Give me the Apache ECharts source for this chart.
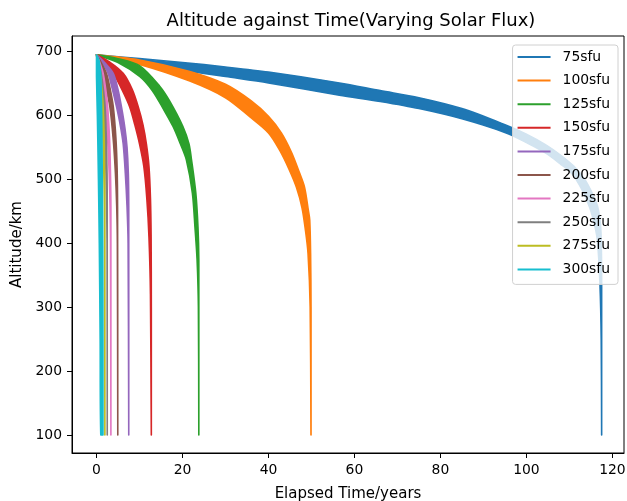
<!DOCTYPE html>
<html>
<head>
<meta charset="utf-8">
<script src="https://cdn.jsdelivr.net/npm/echarts@6/dist/echarts.min.js"></script>
<style>
  html, body { margin: 0; padding: 0; background: #fff; }
  #chart { width: 627px; height: 501px; }
</style>
</head>
<body>
<div id="chart"></div>
<script>
// each band: upper edge and lower edge as [years, km]
const fluxNames = ['75sfu', '100sfu', '125sfu', '150sfu', '175sfu', '200sfu', '225sfu', '250sfu', '275sfu', '300sfu'];
const colors = ['#1f77b4', '#ff7f0e', '#2ca02c', '#d62728', '#9467bd', '#8c564b', '#e377c2', '#7f7f7f', '#bcbd22', '#17becf'];

const sfu75Upper = [[0, 694], [10, 688], [20, 682], [30, 675], [40, 667], [56.5, 650], [66, 638], [75, 627], [85, 610], [95.3, 584], [100, 570], [104.6, 553], [108, 537], [111, 520], [113.5, 500], [115.5, 475], [116.6, 456], [117.2, 430], [117.4, 405], [117.5, 337], [117.5, 100]];
const sfu75Lower = [[0, 694], [10, 680], [20, 670], [30, 660], [40, 650], [56.5, 631], [66, 621], [75, 610], [85, 594], [95.3, 572], [100, 557], [104.6, 540], [108, 523], [110.5, 509], [112.8, 485], [114.7, 456], [115.8, 430], [116.5, 405], [117.1, 337], [117.4, 250], [117.5, 100]];

const sfu100Upper = [[0, 694], [10, 686], [21.7, 668], [30, 648], [36, 622], [40, 598], [43, 572], [45.4, 541], [47.2, 510], [48.4, 487], [49.3, 450], [49.6, 436], [49.8, 384], [49.9, 300], [49.9, 100]];
const sfu100Lower = [[0, 694], [10, 679], [21.7, 653], [30, 627], [35.7, 597], [40, 572], [42.6, 545], [44.8, 515], [46.5, 487], [47.8, 455], [48.6, 420], [49.2, 384], [49.7, 300], [49.9, 100]];

const sfu125Upper = [[0, 694], [5, 688], [10, 677], [14.7, 645], [17, 622], [20.1, 582], [21.5, 555], [22.1, 530], [23.1, 478], [23.6, 425], [23.8, 373], [23.8, 100]];
const sfu125Lower = [[0, 694], [5, 682], [10.1, 660], [13, 638], [15.5, 610], [17.8, 582], [19.5, 555], [20.9, 530], [22.3, 478], [22.9, 425], [23.4, 373], [23.7, 300], [23.8, 100]];

const sfu150Upper = [[0, 694], [3, 683], [6.2, 665], [8.3, 640], [9.7, 613], [10.8, 585], [11.6, 555], [12.2, 520], [12.55, 470], [12.7, 410], [12.75, 300], [12.75, 100]];
const sfu150Lower = [[0, 694], [2, 683], [3.9, 665], [5.9, 640], [7.7, 613], [8.9, 585], [10, 555], [11, 520], [11.7, 470], [12.2, 410], [12.55, 320], [12.75, 100]];

const sfu175Upper = [[0, 694], [2, 681], [3.9, 665], [5, 640], [5.8, 613], [6.6, 580], [7.1, 550], [7.4, 509], [7.5, 457], [7.5, 100]];
const sfu175Lower = [[0, 694], [1.5, 680], [2.7, 665], [3.7, 640], [4.65, 613], [5.5, 585], [6.2, 555], [6.7, 509], [7.1, 457], [7.35, 400], [7.5, 100]];

const sfu200Upper = [[0, 694], [1, 683], [2.3, 665], [3.2, 640], [3.9, 613], [4.5, 565], [4.8, 515], [4.9, 457], [4.95, 100]];
const sfu200Lower = [[0, 694], [0.7, 680], [1.5, 665], [2.3, 640], [3.1, 613], [3.9, 561], [4.4, 509], [4.7, 457], [4.85, 400], [4.95, 100]];

const sfu225Upper = [[0, 694], [0.7, 683], [1.55, 665], [2.15, 640], [2.6, 613], [3.05, 561], [3.25, 509], [3.35, 457], [3.35, 100]];
const sfu225Lower = [[0, 694], [0.45, 680], [1.0, 665], [1.55, 640], [2.1, 613], [2.6, 561], [2.95, 509], [3.15, 457], [3.25, 400], [3.35, 100]];

const sfu250Upper = [[0, 694], [0.5, 683], [1.1, 665], [1.6, 640], [2.0, 613], [2.3, 561], [2.45, 509], [2.5, 457], [2.5, 100]];
const sfu250Lower = [[0, 694], [0.3, 680], [0.7, 665], [1.1, 640], [1.55, 613], [1.95, 561], [2.2, 509], [2.35, 457], [2.45, 400], [2.5, 100]];

const sfu275Upper = [[0, 694], [0.4, 683], [0.85, 665], [1.25, 640], [1.55, 613], [1.8, 561], [1.9, 509], [1.95, 457], [1.95, 100]];
const sfu275Lower = [[0, 694], [0.25, 680], [0.55, 665], [0.85, 640], [1.15, 613], [1.5, 561], [1.7, 509], [1.85, 457], [1.9, 400], [1.95, 100]];

const sfu300Upper = [[0, 694], [0.6, 685], [1.0, 660], [1.2, 600], [1.35, 500], [1.45, 400], [1.5, 250], [1.5, 100]];
const sfu300Lower = [[0, 694], [0, 660], [0.2, 600], [0.45, 500], [0.65, 400], [0.85, 250], [1.0, 100]];

const bands = [
  [sfu75Upper, sfu75Lower], [sfu100Upper, sfu100Lower], [sfu125Upper, sfu125Lower],
  [sfu150Upper, sfu150Lower], [sfu175Upper, sfu175Lower], [sfu200Upper, sfu200Lower],
  [sfu225Upper, sfu225Lower], [sfu250Upper, sfu250Lower], [sfu275Upper, sfu275Lower],
  [sfu300Upper, sfu300Lower]
];

const xTicks = [0, 20, 40, 60, 80, 100, 120];
const yTicks = [100, 200, 300, 400, 500, 600, 700];

const font = 'DejaVu Sans';
const chart = echarts.init(document.getElementById('chart'));

const samePoint = (a, b) => a[0] === b[0] && a[1] === b[1];

const series = fluxNames.map((name, i) => {
  const upper = bands[i][0];
  let lower = bands[i][1].slice();
  // go down the upper edge, back up the lower edge (shared end points dropped)
  if (samePoint(lower[lower.length - 1], upper[upper.length - 1])) lower.pop();
  if (samePoint(lower[0], upper[0])) lower.shift();
  const outline = upper.concat(lower.reverse());
  return {
    name: name,
    type: 'custom',
    itemStyle: { color: colors[i] },
    data: [0],
    renderItem: function (params, api) {
      const pts = outline.map(p => api.coord(p));
      const xs = pts.map(p => p[0]);
      const ys = pts.map(p => p[1]);
      const box = [[Math.min(...xs), Math.min(...ys)], [Math.max(...xs), Math.max(...ys)]];
      return {
        type: 'polygon',
        shape: { points: pts, smooth: 0.3, smoothConstraint: box },
        style: { fill: colors[i], stroke: colors[i], lineWidth: 1.6, lineJoin: 'round' }
      };
    }
  };
});

chart.setOption({
  animation: false,
  title: {
    text: 'Altitude against Time(Varying Solar Flux)',
    left: 346, top: 7, textAlign: 'center',
    textStyle: { fontFamily: font, fontSize: 18, fontWeight: 'normal', color: '#000' }
  },
  grid: {
    left: 72, right: 3, top: 36, bottom: 48, outerBoundsMode: 'none',
    show: true, borderColor: '#000', borderWidth: 1
  },
  legend: {
    orient: 'vertical',
    right: 9, top: 45,
    data: fluxNames.map(n => ({ name: n, icon: 'rect' })),
    itemWidth: 33, itemHeight: 2, itemGap: 9.6,
    padding: [5, 8, 8, 5],
    backgroundColor: 'rgba(255,255,255,0.8)',
    borderColor: '#d0d0d0', borderWidth: 1, borderRadius: 3,
    textStyle: { fontFamily: font, fontSize: 13.9, color: '#000', lineHeight: 14, padding: [0, 0, 0, 7] }
  },
  xAxis: {
    type: 'value', min: -5.7, max: 122.7,
    name: 'Elapsed Time/years', nameLocation: 'middle', nameGap: 34,
    nameTextStyle: { fontFamily: font, fontSize: 15, color: '#000' },
    axisLine: { show: true, onZero: false, lineStyle: { color: '#000', width: 1 } },
    axisTick: { show: true, length: 5, lineStyle: { color: '#000' }, customValues: xTicks },
    axisLabel: { fontFamily: font, fontSize: 13.9, color: '#000', margin: 10, customValues: xTicks },
    splitLine: { show: false }
  },
  yAxis: {
    type: 'value', min: 71.9, max: 723.4,
    name: 'Altitude/km', nameLocation: 'middle', nameGap: 47,
    nameTextStyle: { fontFamily: font, fontSize: 15, color: '#000' },
    axisLine: { show: true, onZero: false, lineStyle: { color: '#000', width: 1 } },
    axisTick: { show: true, length: 5, lineStyle: { color: '#000' }, customValues: yTicks },
    axisLabel: { fontFamily: font, fontSize: 13.9, color: '#000', margin: 10, customValues: yTicks },
    splitLine: { show: false }
  },
  series: series
});
</script>
</body>
</html>
